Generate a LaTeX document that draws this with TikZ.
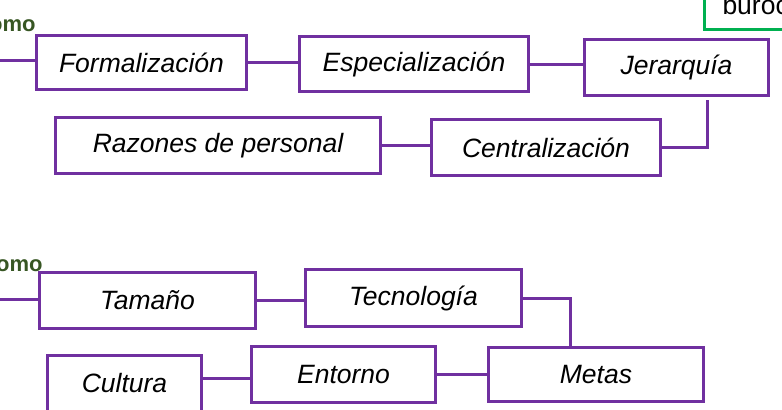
\documentclass[tikz,border=0pt]{standalone}
\usepackage{fontspec}
\setmainfont{Liberation Sans}
\usetikzlibrary{positioning}
\definecolor{morado}{HTML}{7030A0}
\definecolor{verdeosc}{HTML}{375623}
\definecolor{verde}{HTML}{00B050}

\begin{document}
\begin{tikzpicture}[x=0.5pt,y=-0.5pt]
	\tikzstyle{caja}=[rectangle,draw=morado,line width=1.5pt,fill=white,inner sep=2pt,font=\fontsize{13.25}{15}\selectfont\itshape]
	\tikzstyle{enlace}=[draw=morado,line width=1.5pt]
	\tikzstyle{titulo}=[anchor=base east,inner sep=0pt,text=verdeosc,font=\fontsize{11}{13}\selectfont\bfseries]
	\tikzstyle{burobox}=[rectangle,draw=verde,line width=1.5pt,anchor=south west,inner xsep=9pt,inner ysep=7.5pt,font=\fontsize{13.25}{15}\selectfont]

	\useasboundingbox (0,0) rectangle (782,409);

	% primer grupo
	\node[titulo] (omo1) at (36,31) {omo};
	\node[burobox] (buro) at (703,31) {burocracia};
	\coordinate (in1) at (0,60);
	\node[caja,minimum width=105pt,minimum height=27pt] (formal) at (141.5,62.5) {Formalización};
	\node[caja,minimum width=114.5pt,minimum height=27.5pt] (espec) at (414,64) {Especialización};
	\node[caja,minimum width=92pt,minimum height=28pt] (jer) at (676.5,67.5) {Jerarquía};
	\node[caja,minimum width=162.5pt,minimum height=28pt] (razones) at (218,145.5) {Razones de personal};
	\node[caja,minimum width=114.5pt,minimum height=28pt] (central) at (546,147.5) {Centralización};

	\draw[enlace] (in1) -- (in1 -| formal.west);
	\draw[enlace] (formal.east) -- (formal.east -| espec.west);
	\draw[enlace] (espec.east) -- (espec.east -| jer.west);
	\draw[enlace] ([xshift=15.25pt,yshift=-1.5pt]jer.south) |- (central.east);
	\draw[enlace] (razones.east) -- (razones.east -| central.west);

	% segundo grupo
	\node[titulo] (omo2) at (43,271) {omo};
	\coordinate (in2) at (0,299);
	\node[caja,minimum width=108pt,minimum height=28pt] (tamano) at (147.5,300) {Tamaño};
	\node[caja,minimum width=108pt,minimum height=28.5pt] (tecno) at (413.5,298) {Tecnología};
	\node[caja,minimum width=107.5pt,minimum height=27pt] (metas) at (596,374.5) {Metas};
	\node[caja,minimum width=92pt,minimum height=28pt] (entorno) at (343.5,374.5) {Entorno};
	\node[caja,minimum width=77pt,minimum height=28pt] (cultura) at (124.5,383) {Cultura};

	\draw[enlace] (in2) -- (in2 -| tamano.west);
	\draw[enlace] (tamano.east) -- (tamano.east -| tecno.west);
	\draw[enlace] (tecno.east) -| ([xshift=-13pt]metas.north);
	\draw[enlace] (entorno.east) -- (entorno.east -| metas.west);
	\draw[enlace] ([yshift=2.5pt]cultura.east) -- ([yshift=2.5pt]cultura.east -| entorno.west);
\end{tikzpicture}
\end{document}
